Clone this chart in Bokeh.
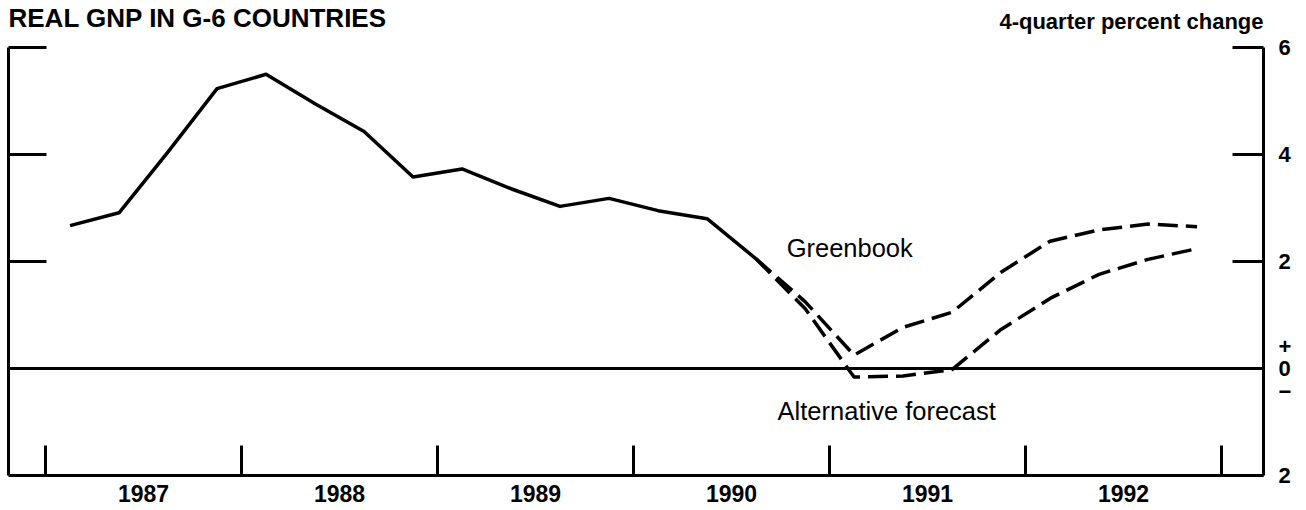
from bokeh.plotting import figure
from bokeh.models import LinearAxis, FixedTicker, Span, Label
from bokeh.embed import file_html
from bokeh.resources import INLINE

# ---------------- data ----------------
actual_quarters = ["1987Q1", "1987Q2", "1987Q3", "1987Q4",
                   "1988Q1", "1988Q2", "1988Q3", "1988Q4",
                   "1989Q1", "1989Q2", "1989Q3", "1989Q4",
                   "1990Q1", "1990Q2", "1990Q3"]
actual_values = [2.67, 2.91, 4.05, 5.23, 5.50, 4.95, 4.43, 3.58,
                 3.73, 3.36, 3.03, 3.18, 2.95, 2.80, 2.05]

forecast_quarters = ["1990Q3", "1990Q4", "1991Q1", "1991Q2", "1991Q3",
                     "1991Q4", "1992Q1", "1992Q2", "1992Q3", "1992Q4"]
greenbook_values = [2.05, 1.25, 0.25, 0.77, 1.05, 1.80, 2.38, 2.59, 2.70, 2.65]
alternative_values = [2.05, 1.12, -0.16, -0.14, -0.02, 0.73, 1.31, 1.76, 2.04, 2.24]

year_labels = ["1987", "1988", "1989", "1990", "1991", "1992"]
year_boundaries = [1987, 1988, 1989, 1990, 1991, 1992, 1993]
y_ticks = [6, 4, 2, 0, -2]
y_tick_labels = ["6", "4", "2", "+\n0\n\u2212", "2"]
left_ticks = [6, 4, 2]

title_text = "REAL GNP IN G-6 COUNTRIES"
units_text = "4-quarter percent change"


def qpos(s):
    return int(s[:4]) + (int(s[5]) - 0.5) / 4.0


ax = [qpos(q) for q in actual_quarters]
fx = [qpos(q) for q in forecast_quarters]

FONT = "Liberation Sans"
PX_PER_UNIT = 53.5
X0, X1 = 1986.811, 1993.214
Y0, Y1 = -2, 6
Y_TOP = Y1 + 47 / PX_PER_UNIT   # frame reaches the top of the canvas

p = figure(width=1306, height=510, x_range=(X0, X1), y_range=(Y0, Y_TOP),
           output_backend="svg", toolbar_location=None,
           x_axis_location=None, y_axis_location=None,
           min_border_left=8, min_border_right=43,
           min_border_top=0, min_border_bottom=35,
           outline_line_color=None, background_fill_color="white",
           border_fill_color="white")
p.xgrid.visible = False
p.ygrid.visible = False

# ---- bottom axis: year boundary ticks (inside) + year labels at mid-year
mid_years = [int(y) + 0.5 for y in year_labels]
xaxis = LinearAxis(ticker=FixedTicker(ticks=mid_years, minor_ticks=year_boundaries),
                   major_label_overrides={m: l for m, l in zip(mid_years, year_labels)},
                   major_tick_in=0, major_tick_out=0,
                   minor_tick_in=30, minor_tick_out=0,
                   minor_tick_line_width=3, minor_tick_line_color="black",
                   axis_line_width=3, axis_line_color="black",
                   major_label_standoff=9,
                   major_label_text_font=FONT,
                   major_label_text_font_size="23px",
                   major_label_text_font_style="bold",
                   major_label_text_color="black")
p.add_layout(xaxis, "below")

# ---- left axis: ticks only, line only between -2 and 6
laxis = LinearAxis(ticker=FixedTicker(ticks=left_ticks), bounds=(Y0, Y1),
                   major_label_overrides={t: "" for t in left_ticks},
                   major_label_standoff=0,
                   major_label_text_font_size="0px",
                   major_tick_in=38, major_tick_out=0,
                   major_tick_line_width=3, axis_line_width=3,
                   minor_tick_line_color=None)
p.add_layout(laxis, "left")

# ---- right axis with labels
raxis = LinearAxis(ticker=FixedTicker(ticks=y_ticks), bounds=(Y0, Y1),
                   major_label_overrides={t: l for t, l in zip(y_ticks, y_tick_labels)},
                   major_tick_in=31, major_tick_out=0,
                   major_tick_line_width=3, axis_line_width=3,
                   minor_tick_line_color=None,
                   major_label_standoff=15,
                   major_label_text_font=FONT,
                   major_label_text_font_size="22px",
                   major_label_text_font_style="bold",
                   major_label_text_line_height=0.9,
                   major_label_text_align="center",
                   major_label_text_color="black")
p.add_layout(raxis, "right")

# zero line
p.add_layout(Span(location=0, dimension="width", line_color="black", line_width=3))

# data lines
p.line(ax, actual_values, line_color="black", line_width=3.5, line_join="round")
p.line(fx, greenbook_values, line_color="black", line_width=3.5,
       line_dash="20 8", line_join="round")
p.line(fx, alternative_values, line_color="black", line_width=3.5,
       line_dash="20 8", line_join="round")

# series annotations
p.add_layout(Label(x=1990.781, y=2.26, text="Greenbook",
                   text_align="left", text_baseline="middle", text_color="black",
                   text_font=FONT, text_font_size="25.5px"))
p.add_layout(Label(x=1990.735, y=-0.80, text="Alternative forecast",
                   text_align="left", text_baseline="middle", text_color="black",
                   text_font=FONT, text_font_size="25.5px"))

# units label, top right
p.add_layout(Label(x=X1, y=Y1, y_offset=26, text=units_text,
                   text_align="right", text_baseline="middle", text_color="black",
                   text_font=FONT, text_font_size="22px", text_font_style="bold"))

# title at the very top edge
p.add_layout(Label(x=X0, y=Y1, y_offset=45, text=title_text,
                   text_align="left", text_baseline="top", text_color="black",
                   text_font=FONT, text_font_size="26px", text_font_style="bold"))

open("out.html", "w").write(file_html(p, INLINE))
